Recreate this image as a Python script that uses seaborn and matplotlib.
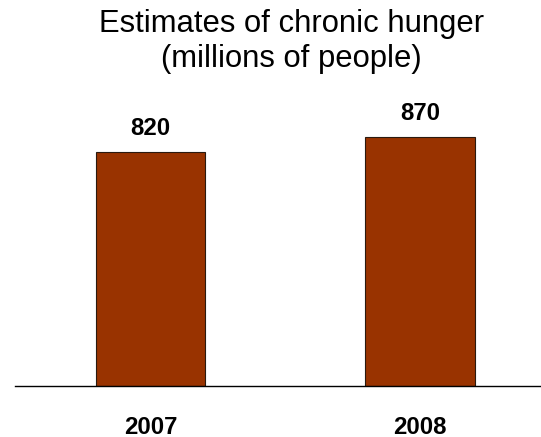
import matplotlib
matplotlib.use("Agg")
import matplotlib.pyplot as plt
import seaborn as sns
import pandas as pd

years = ["2007", "2008"]
hunger = [820, 870]
title_lines = ["Estimates of chronic hunger", "(millions of people)"]

sns.set_style("white")
plt.rcParams["font.family"] = ["Liberation Sans", "DejaVu Sans"]

W, H = 541, 437
fig = plt.figure(figsize=(W / 100, H / 100), dpi=100)
ax = fig.add_axes([15 / W, (H - 386) / H, (W - 15) / W, 286 / H])

df = pd.DataFrame({"year": years, "value": hunger})
sns.barplot(data=df, x="year", y="value", color="#993300", width=0.4045,
            edgecolor="#2a1a10", linewidth=0.8, saturation=1, ax=ax)

ax.set_xlim(-0.5028, 1.449)
ax.set_ylim(0, 1000.7)
ax.set_xlabel("")
ax.set_ylabel("")
ax.set_yticks([])
for s in ["left", "right", "top"]:
    ax.spines[s].set_visible(False)
ax.spines["bottom"].set_color("black")
ax.spines["bottom"].set_linewidth(1.0)
ax.tick_params(axis="x", length=0, pad=21.5)
for lab in ax.get_xticklabels():
    lab.set_fontweight("bold")
    lab.set_fontsize(17.3)
    lab.set_color("black")

for i, v in enumerate(hunger):
    ax.annotate(f"{v}", xy=(i, v), xytext=(0, 12.2), textcoords="offset points",
                ha="center", va="baseline", fontsize=17.3, fontweight="bold",
                color="black")

fig.text(292 / W, 1 - 32 / H, title_lines[0], ha="center", va="baseline",
         fontsize=22.3, color="black")
fig.text(291 / W, 1 - 67 / H, title_lines[1], ha="center", va="baseline",
         fontsize=22.3, color="black")

fig.savefig("out.png", dpi=100, facecolor="white")
